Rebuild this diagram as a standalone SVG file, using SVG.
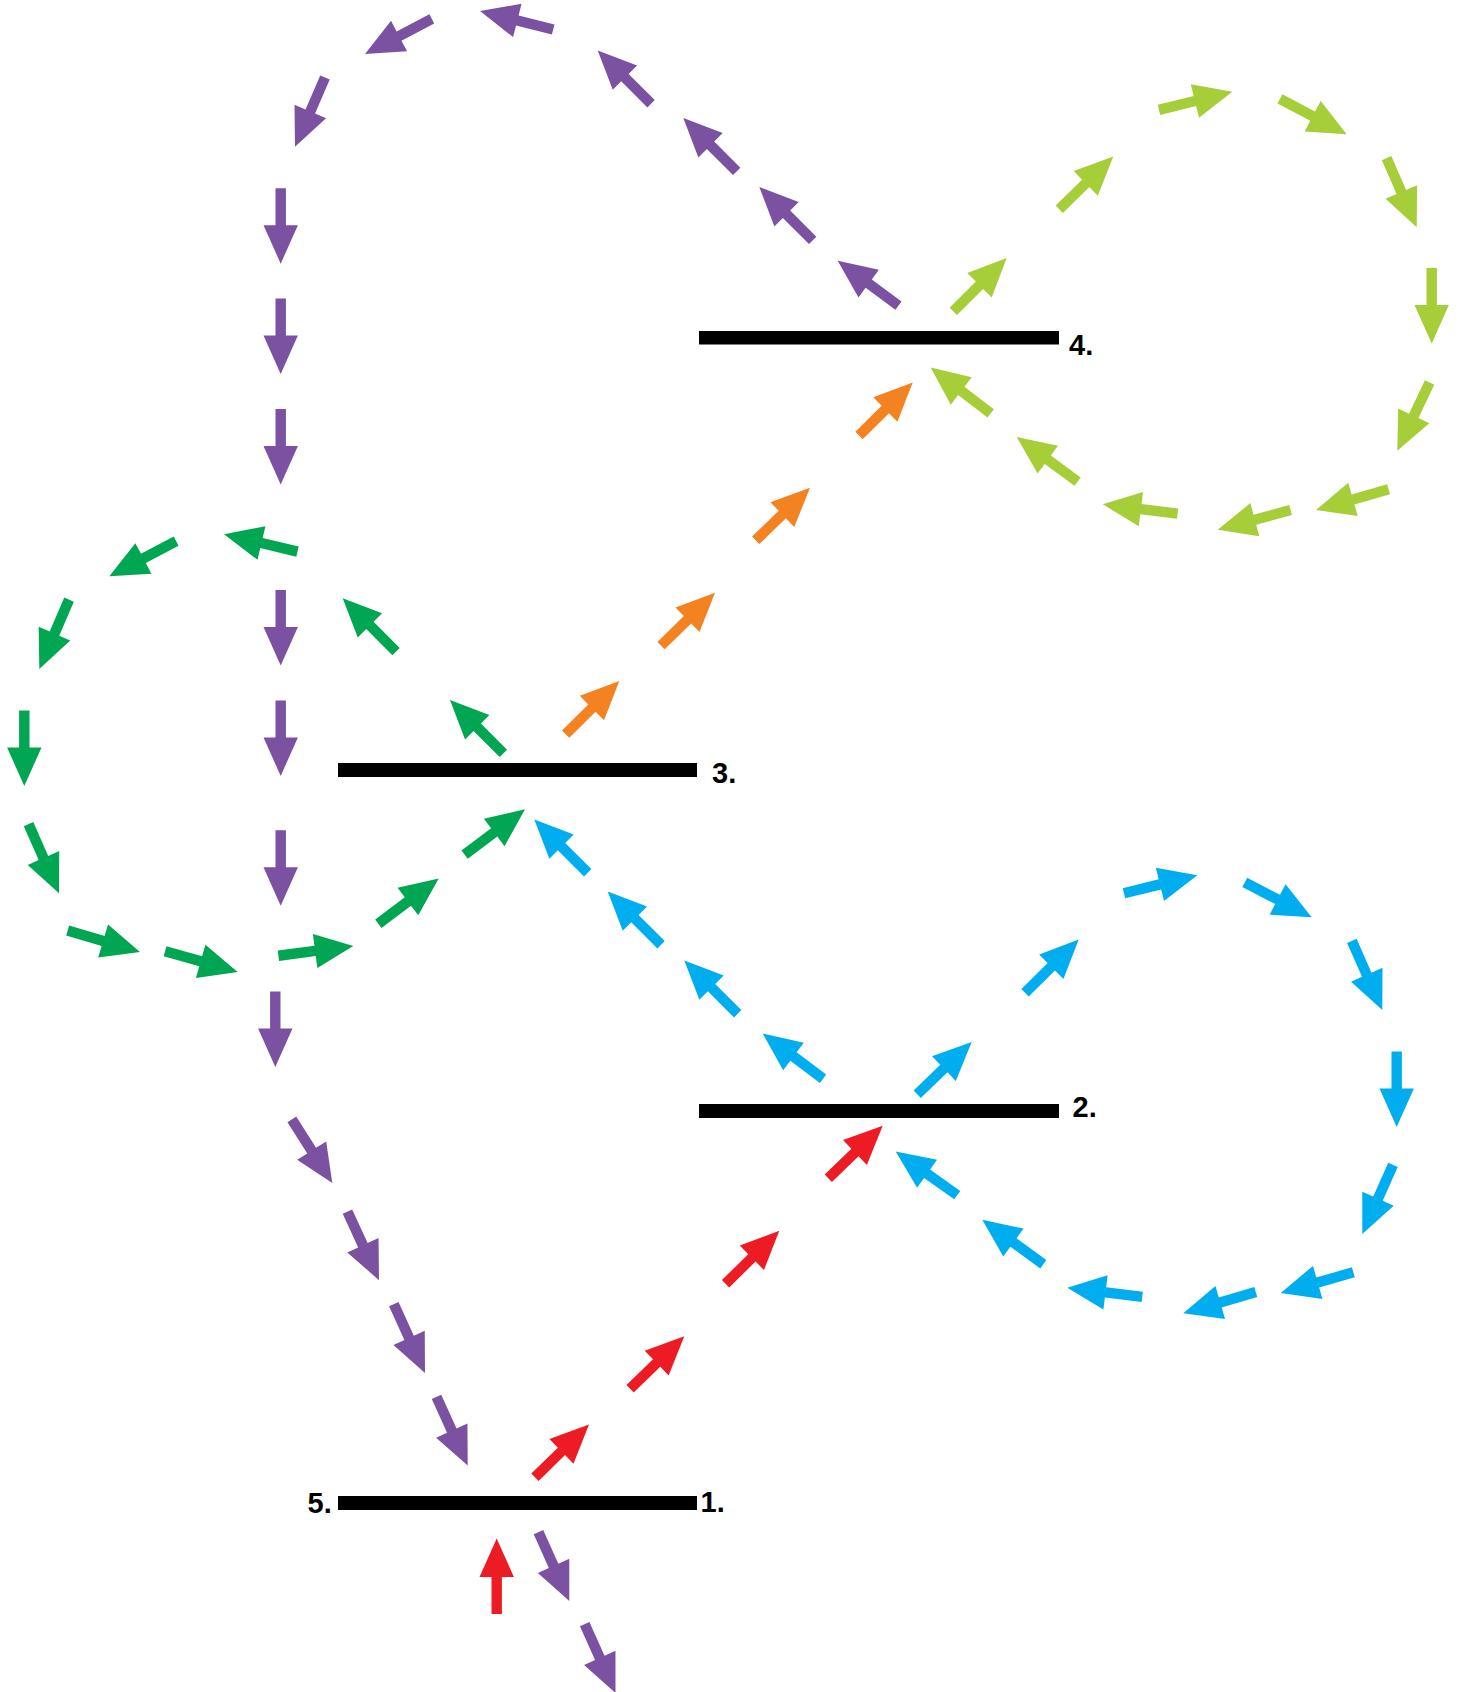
<svg xmlns="http://www.w3.org/2000/svg" width="1459" height="1692" viewBox="0 0 1459 1692">
<style>
.p{fill:#7B52A1}.g{fill:#00A651}.o{fill:#F58220}.l{fill:#A6CE39}.b{fill:#00AEEF}.r{fill:#ED1C24}
.bar{fill:#000}
.lbl{font-family:"Liberation Sans",Arial,sans-serif;font-weight:bold;font-size:29px;fill:#000}
</style>
<defs>
<path id="a" d="M-75.5,-5.2 H-38.5 V-17.2 L0,0 L-38.5,17.2 V5.2 H-75.5 Z"/>
</defs>
<rect width="1459" height="1692" fill="#fff"/>
<g id="node-4"><rect class="bar" x="699" y="331" width="360" height="13.5"/><text class="lbl" x="1069" y="354.5">4.</text></g>
<g id="node-3"><rect class="bar" x="338" y="763" width="359" height="14"/><text class="lbl" x="712" y="782.5">3.</text></g>
<g id="node-2"><rect class="bar" x="699" y="1104" width="360" height="14"/><text class="lbl" x="1072.5" y="1117">2.</text></g>
<g id="node-1-5"><rect class="bar" x="338" y="1496" width="359" height="14"/><text class="lbl" x="700.5" y="1511.5">1.</text><text class="lbl" x="307.5" y="1513">5.</text></g>
<g id="connectors">
<g id="purple">
<use href="#a" class="p" transform="translate(480,11) rotate(194.2)"/>
<use href="#a" class="p" transform="translate(365,54) rotate(152.2)"/>
<use href="#a" class="p" transform="translate(295,146.8) rotate(113.4)"/>
<use href="#a" class="p" transform="translate(280.7,263.7) rotate(90)"/>
<use href="#a" class="p" transform="translate(280.7,374) rotate(90)"/>
<use href="#a" class="p" transform="translate(280.7,484.5) rotate(90)"/>
<use href="#a" class="p" transform="translate(280.7,665.5) rotate(90)"/>
<use href="#a" class="p" transform="translate(280.7,775.9) rotate(90)"/>
<use href="#a" class="p" transform="translate(280.7,905.7) rotate(90)"/>
<use href="#a" class="p" transform="translate(275.3,1067) rotate(90)"/>
<use href="#a" class="p" transform="translate(332.3,1183.1) rotate(57.6)"/>
<use href="#a" class="p" transform="translate(379,1280.2) rotate(65.3)"/>
<use href="#a" class="p" transform="translate(425,1372.9) rotate(65.6)"/>
<use href="#a" class="p" transform="translate(467.7,1465.6) rotate(65.6)"/>
<use href="#a" class="p" transform="translate(569.3,1601) rotate(65.9)"/>
<use href="#a" class="p" transform="translate(615.5,1693) rotate(65.9)"/>
<use href="#a" class="p" transform="translate(597.7,50.4) rotate(225)"/>
<use href="#a" class="p" transform="translate(683.3,118) rotate(225)"/>
<use href="#a" class="p" transform="translate(759.3,187) rotate(225)"/>
<use href="#a" class="p" transform="translate(837.7,260.8) rotate(216.4)"/>
</g>
<g id="green">
<use href="#a" class="g" transform="translate(224,534.2) rotate(193.3)"/>
<use href="#a" class="g" transform="translate(109.3,576.3) rotate(152.3)"/>
<use href="#a" class="g" transform="translate(39.3,669) rotate(113.2)"/>
<use href="#a" class="g" transform="translate(24.3,786) rotate(90)"/>
<use href="#a" class="g" transform="translate(59,893.2) rotate(66.2)"/>
<use href="#a" class="g" transform="translate(140,952.1) rotate(16.6)"/>
<use href="#a" class="g" transform="translate(237.7,971.9) rotate(15.9)"/>
<use href="#a" class="g" transform="translate(353.3,946) rotate(-7.4)"/>
<use href="#a" class="g" transform="translate(438.7,878.4) rotate(-36.9)"/>
<use href="#a" class="g" transform="translate(525,809.3) rotate(-36.9)"/>
<use href="#a" class="g" transform="translate(342.7,598.2) rotate(225)"/>
<use href="#a" class="g" transform="translate(450,700) rotate(225)"/>
</g>
<g id="orange">
<use href="#a" class="o" transform="translate(619.3,681) rotate(-44.7)"/>
<use href="#a" class="o" transform="translate(715,592.8) rotate(-44.4)"/>
<use href="#a" class="o" transform="translate(810,487.8) rotate(-44)"/>
<use href="#a" class="o" transform="translate(912.7,382.4) rotate(-44.7)"/>
</g>
<g id="lime">
<use href="#a" class="l" transform="translate(1006.7,258) rotate(-45)"/>
<use href="#a" class="l" transform="translate(1113.3,156.5) rotate(-44.3)"/>
<use href="#a" class="l" transform="translate(1232.3,91.7) rotate(-13.9)"/>
<use href="#a" class="l" transform="translate(1346.7,134.2) rotate(27.9)"/>
<use href="#a" class="l" transform="translate(1416.7,227.3) rotate(66.5)"/>
<use href="#a" class="l" transform="translate(1431.7,343.5) rotate(90)"/>
<use href="#a" class="l" transform="translate(1397.3,450.7) rotate(115.3)"/>
<use href="#a" class="l" transform="translate(1316,510) rotate(164)"/>
<use href="#a" class="l" transform="translate(1217.7,529.8) rotate(164.8)"/>
<use href="#a" class="l" transform="translate(1102.7,504.3) rotate(187.1)"/>
<use href="#a" class="l" transform="translate(1016.7,437) rotate(216.2)"/>
<use href="#a" class="l" transform="translate(930.7,367.6) rotate(217.4)"/>
</g>
<g id="blue">
<use href="#a" class="b" transform="translate(534.3,819.4) rotate(225)"/>
<use href="#a" class="b" transform="translate(607.7,891.4) rotate(225)"/>
<use href="#a" class="b" transform="translate(684.3,960.4) rotate(225)"/>
<use href="#a" class="b" transform="translate(762.7,1033.4) rotate(216.9)"/>
<use href="#a" class="b" transform="translate(971.7,1041.9) rotate(-43.8)"/>
<use href="#a" class="b" transform="translate(1078.7,939.6) rotate(-44.7)"/>
<use href="#a" class="b" transform="translate(1197.3,875.2) rotate(-13.8)"/>
<use href="#a" class="b" transform="translate(1311.7,917.3) rotate(27.6)"/>
<use href="#a" class="b" transform="translate(1382.3,1010) rotate(66.2)"/>
<use href="#a" class="b" transform="translate(1396.7,1127.1) rotate(90)"/>
<use href="#a" class="b" transform="translate(1362.3,1233.9) rotate(114)"/>
<use href="#a" class="b" transform="translate(1280.7,1293) rotate(164.1)"/>
<use href="#a" class="b" transform="translate(1183.3,1313.3) rotate(163.7)"/>
<use href="#a" class="b" transform="translate(1067.3,1287.7) rotate(187)"/>
<use href="#a" class="b" transform="translate(982.3,1219.8) rotate(216.1)"/>
<use href="#a" class="b" transform="translate(895.7,1151.4) rotate(215.4)"/>
</g>
<g id="red">
<use href="#a" class="r" transform="translate(882.7,1125.8) rotate(-43.9)"/>
<use href="#a" class="r" transform="translate(779.3,1230.8) rotate(-44.6)"/>
<use href="#a" class="r" transform="translate(684.3,1336.3) rotate(-44.1)"/>
<use href="#a" class="r" transform="translate(589,1424.5) rotate(-44.3)"/>
<use href="#a" class="r" transform="translate(496.7,1538.4) rotate(-90)"/>
</g>
</g>
</svg>
